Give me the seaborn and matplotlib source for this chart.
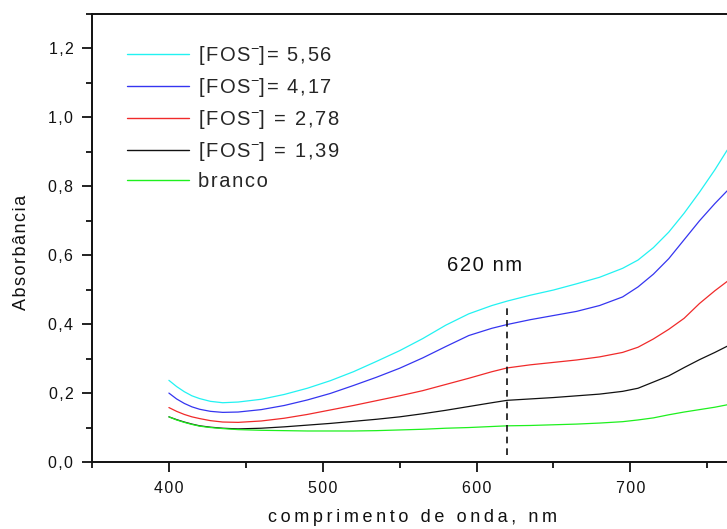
import numpy as np
import pandas as pd
import seaborn as sns
import matplotlib
matplotlib.use("Agg")
import matplotlib.pyplot as plt
from matplotlib.ticker import MultipleLocator, FuncFormatter

# Absorption spectra (wavelength in nm, absorbance)
wavelength = [400, 405, 410, 415, 420, 427, 435, 445, 460, 475, 490, 505, 520, 535, 550, 565,
              580, 595, 610, 620, 635, 650, 665, 680, 695, 705, 715, 725, 735, 745, 755, 763]
fos_556 = [0.237, 0.219, 0.204, 0.192, 0.184, 0.176, 0.172, 0.174, 0.182, 0.196, 0.214, 0.236,
           0.262, 0.292, 0.323, 0.358, 0.397, 0.430, 0.454, 0.467, 0.484, 0.499, 0.517, 0.536,
           0.562, 0.586, 0.622, 0.667, 0.722, 0.783, 0.848, 0.905]
fos_417 = [0.200, 0.183, 0.170, 0.160, 0.153, 0.147, 0.144, 0.145, 0.152, 0.164, 0.180, 0.199,
           0.222, 0.246, 0.272, 0.302, 0.335, 0.367, 0.388, 0.399, 0.413, 0.425, 0.437, 0.454,
           0.479, 0.508, 0.545, 0.590, 0.645, 0.700, 0.750, 0.787]
fos_278 = [0.158, 0.147, 0.138, 0.131, 0.126, 0.120, 0.116, 0.115, 0.119, 0.127, 0.138, 0.151,
           0.164, 0.178, 0.192, 0.207, 0.225, 0.243, 0.262, 0.273, 0.282, 0.289, 0.296, 0.305,
           0.318, 0.333, 0.357, 0.385, 0.417, 0.460, 0.497, 0.524]
fos_139 = [0.131, 0.123, 0.116, 0.110, 0.105, 0.101, 0.098, 0.096, 0.098, 0.102, 0.107, 0.112,
           0.118, 0.124, 0.131, 0.140, 0.150, 0.161, 0.172, 0.179, 0.183, 0.187, 0.192, 0.197,
           0.205, 0.214, 0.232, 0.250, 0.274, 0.297, 0.318, 0.336]
branco = [0.131, 0.122, 0.115, 0.109, 0.104, 0.100, 0.097, 0.094, 0.092, 0.091, 0.090, 0.090,
          0.090, 0.091, 0.093, 0.095, 0.098, 0.100, 0.103, 0.105, 0.106, 0.108, 0.110, 0.113,
          0.117, 0.122, 0.128, 0.137, 0.145, 0.152, 0.159, 0.166]

concentrations = ["5,56", "4,17", "2,78", "1,39"]
colors = ["#22f2f2", "#3535f0", "#f02a2a", "#111111", "#1ef01e"]
series = [fos_556, fos_417, fos_278, fos_139, branco]

marker_nm = 620
marker_top = 0.455
marker_bottom = 0.02

HAIR = "\u200a"
THIN = "\u2009"


def spaced(text, gap=HAIR):
    """Widen the tracking of a plain string with narrow spaces between glyphs."""
    return gap.join(text)


labels = [
    spaced("[FOS") + "$^{-}$" + spaced("]= " + concentrations[0]),
    spaced("[FOS") + "$^{-}$" + spaced("]= " + concentrations[1]),
    spaced("[FOS") + "$^{-}$" + spaced("] = " + concentrations[2]),
    spaced("[FOS") + "$^{-}$" + spaced("] = " + concentrations[3]),
    spaced("branco"),
]

df = pd.concat(
    [pd.DataFrame({"wavelength": wavelength, "abs": vals, "serie": lab})
     for lab, vals in zip(labels, series)],
    ignore_index=True,
)

sns.set_theme(style="ticks")
plt.rcParams["font.family"] = ["Liberation Sans", "DejaVu Sans"]
plt.rcParams["mathtext.fontset"] = "custom"
plt.rcParams["mathtext.rm"] = "Liberation Sans"
plt.rcParams["mathtext.it"] = "Liberation Sans"

fig = plt.figure(figsize=(7.27, 5.29), dpi=100)
ax_w = 415 * 1.538
ax = fig.add_axes([92 / 727, 67 / 529, ax_w / 727, 448 / 529])

sns.lineplot(data=df, x="wavelength", y="abs", hue="serie", hue_order=labels,
             palette=colors, linewidth=0.9, ax=ax, sort=False, estimator=None)

ax.vlines(marker_nm, marker_bottom, marker_top, colors="#111111",
          linestyles=(0, (4, 3)), linewidth=1.2)
ax.text(605, 0.57, spaced("620 nm"), ha="center", va="center", fontsize=14.5,
        color="#111111")

ax.set_xlim(350, 765)
ax.set_ylim(0, 1.3)
ax.xaxis.set_major_locator(MultipleLocator(100))
ax.xaxis.set_minor_locator(MultipleLocator(50))
ax.yaxis.set_major_locator(MultipleLocator(0.2))
ax.yaxis.set_minor_locator(MultipleLocator(0.1))
ax.yaxis.set_major_formatter(
    FuncFormatter(lambda v, p: spaced(f"{v:.1f}".replace(".", ","))))
ax.xaxis.set_major_formatter(
    FuncFormatter(lambda v, p: "" if v < 400 else spaced(f"{v:.0f}")))

for side in ["left", "bottom", "top", "right"]:
    ax.spines[side].set_linewidth(1.4)
    ax.spines[side].set_color("#111111")
ax.spines["right"].set_visible(False)

ax.tick_params(axis="both", which="major", direction="out", length=7.5, width=1.3,
               labelsize=11.5, pad=6, color="#111111", labelcolor="#111111")
ax.tick_params(axis="both", which="minor", direction="out", length=4, width=1.3,
               color="#111111")

ax.set_xlabel(spaced("comprimento de onda, nm", THIN), fontsize=13, color="#111111")
ax.xaxis.set_label_coords((413 - 92) / ax_w, -55 / 448, transform=ax.transAxes)
ax.set_ylabel(spaced("Absorbância"), fontsize=13, color="#111111")
ax.yaxis.set_label_coords(-71 / ax_w, (462 - 252) / 448, transform=ax.transAxes)
ax.xaxis.label.set_va("center")
ax.yaxis.label.set_va("center")

leg = ax.legend(loc="upper left", bbox_to_anchor=((127 - 92) / ax_w, (462 - 44) / 448),
                frameon=False, fontsize=14.5, handlelength=3.1, handletextpad=0.45,
                labelspacing=0.45, borderpad=0, borderaxespad=0)
for line in leg.get_lines():
    line.set_linewidth(1.0)

fig.savefig("out.png", dpi=100)
